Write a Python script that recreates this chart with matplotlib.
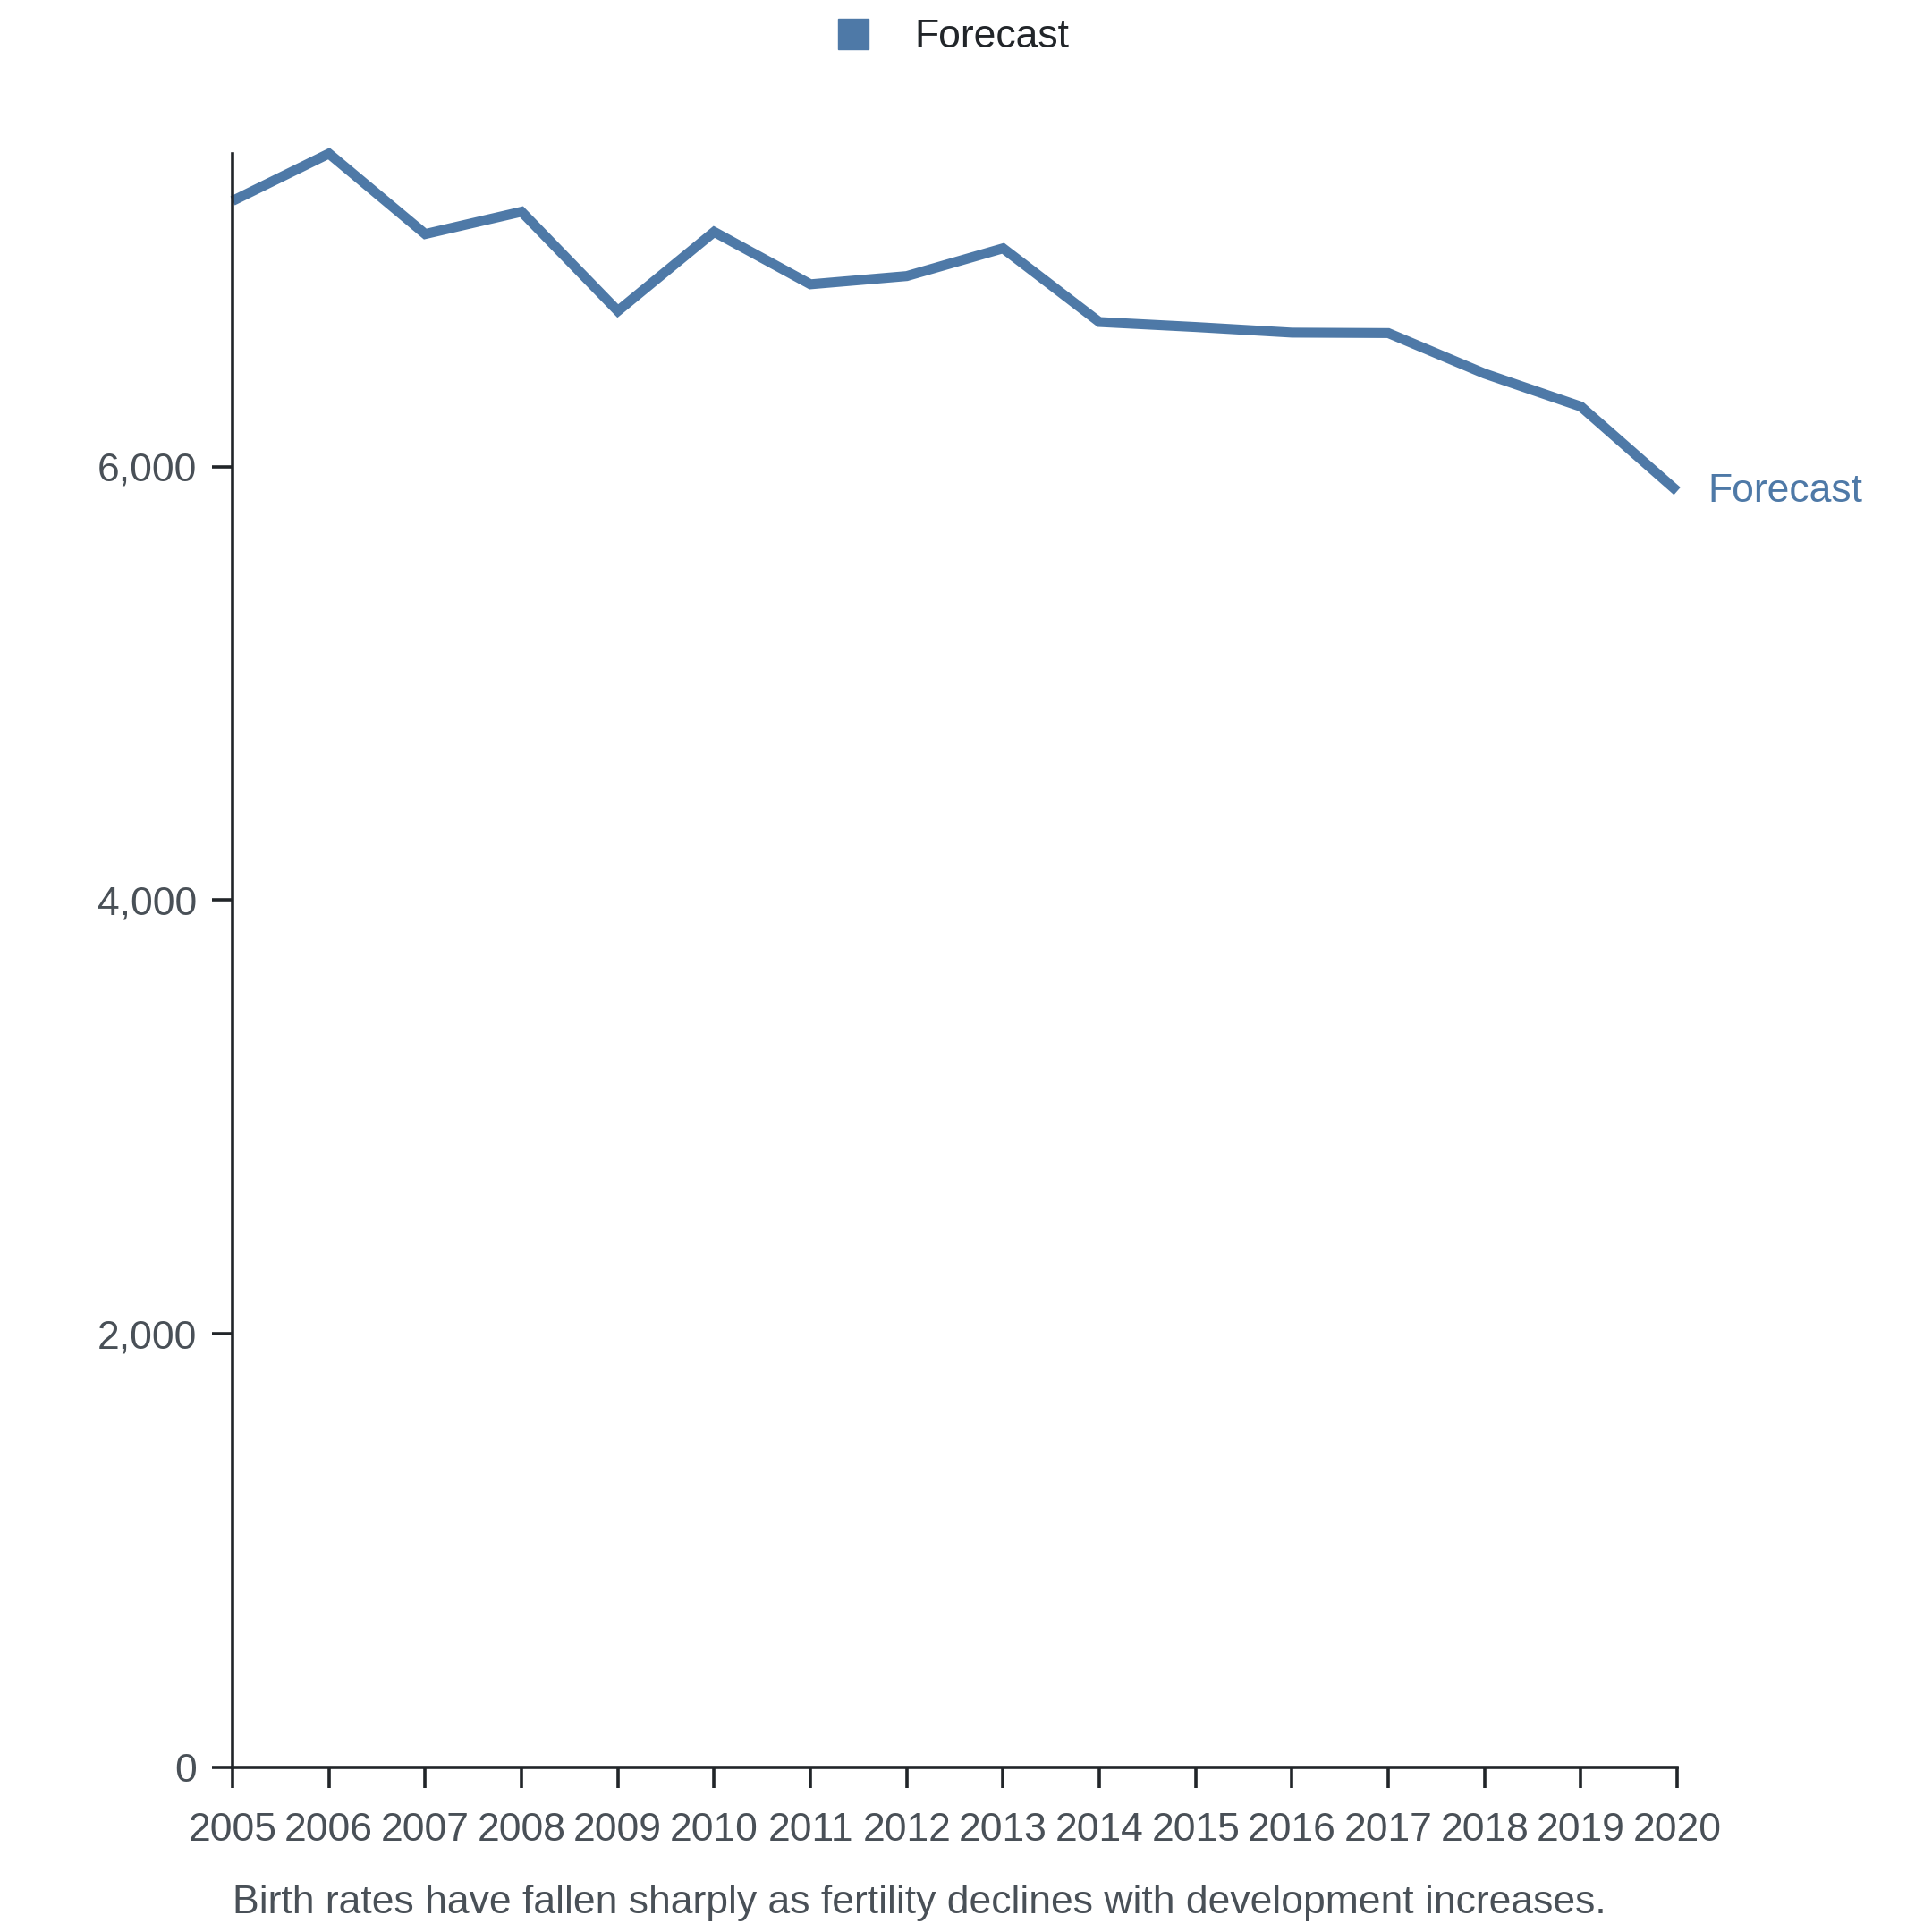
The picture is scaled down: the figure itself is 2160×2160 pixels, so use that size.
import matplotlib.pyplot as plt
from matplotlib.lines import Line2D
from matplotlib.ticker import FuncFormatter

# data
years = list(range(2005, 2021))
forecast = [7226, 7444, 7073, 7176, 6718, 7083, 6841, 6879, 7007,
            6667, 6644, 6618, 6616, 6429, 6277, 5887]
y_ticks = [0, 2000, 4000, 6000]
series_name = 'Forecast'
caption = 'Birth rates have fallen sharply as fertility declines with development increases.'

blue = '#4e79a7'
ink = '#212529'
grey = '#495057'

plt.rcParams['font.family'] = ['Liberation Sans', 'DejaVu Sans']

fig = plt.figure(figsize=(21.6, 21.6), dpi=100)
ax = fig.add_axes([0.1204, 0.0853, 0.7477, 0.8352])

ax.plot(years, forecast, color=blue, linewidth=8,
        solid_capstyle='butt', solid_joinstyle='miter', clip_on=False)

ax.set_xlim(years[0], years[-1])
ax.set_ylim(0, max(forecast))
ax.set_xticks(years)
ax.set_yticks(y_ticks)
ax.yaxis.set_major_formatter(FuncFormatter(lambda v, p: f'{int(v):,}'))

for s in ['top', 'right']:
    ax.spines[s].set_visible(False)
for s in ['left', 'bottom']:
    ax.spines[s].set_color(ink)
    ax.spines[s].set_linewidth(2.6)

ax.tick_params(axis='both', direction='out', length=16.5, width=2.6,
               color=ink, labelcolor=grey, labelsize=32)
ax.tick_params(axis='x', pad=20)
ax.tick_params(axis='y', pad=12)

# end label for the line
ax.annotate(series_name, xy=(years[-1], forecast[-1]), xytext=(25, 0),
            textcoords='offset points', va='center', ha='left',
            color=blue, fontsize=32, annotation_clip=False)

# legend on top
handle = Line2D([], [], linestyle='none', marker='s', markersize=25,
                markerfacecolor=blue, markeredgecolor=blue)
fig.legend(handles=[handle], labels=[series_name], loc='center',
           bbox_to_anchor=(0.4935, 0.9806), frameon=False, fontsize=32,
           handlelength=0.8, handletextpad=1.15, borderpad=0,
           labelcolor=ink)

fig.text(0.1204, 0.0097, caption, ha='left', va='baseline',
         fontsize=32, color=grey)

fig.savefig('out.png', dpi=100)
